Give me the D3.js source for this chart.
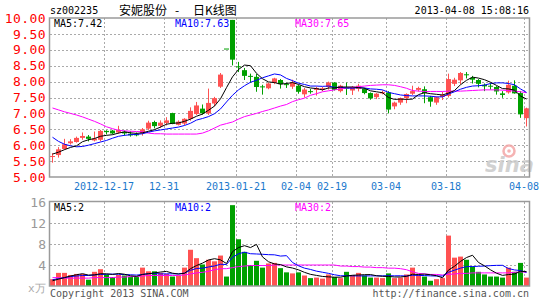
<!DOCTYPE html>
<html>
<head>
<meta charset="utf-8">
<title>安妮股份 - 日K线图</title>
<script src="https://cdn.jsdelivr.net/npm/d3@7/dist/d3.min.js"></script>
<style>
body { margin: 0; background: #fff; }
svg { display: block; }
text { font-family: "DejaVu Sans Mono", monospace; font-size: 10px; }
.grid { stroke: #aaa; stroke-dasharray: 2,2; shape-rendering: crispEdges; }
.frame { fill: none; stroke: #9a9a9a; stroke-width: 1.5; }
.ma { fill: none; stroke-width: 1; }
</style>
</head>
<body>
<script>
// trading days shown (80 sessions)
var dates = [
  "2012-12-04","2012-12-05","2012-12-06","2012-12-07","2012-12-10","2012-12-11","2012-12-12","2012-12-13","2012-12-14","2012-12-17",
  "2012-12-18","2012-12-19","2012-12-20","2012-12-21","2012-12-24","2012-12-25","2012-12-26","2012-12-27","2012-12-28","2012-12-31",
  "2013-01-04","2013-01-07","2013-01-08","2013-01-09","2013-01-10","2013-01-11","2013-01-14","2013-01-15","2013-01-16","2013-01-17",
  "2013-01-18","2013-01-21","2013-01-22","2013-01-23","2013-01-24","2013-01-25","2013-01-28","2013-01-29","2013-01-30","2013-01-31",
  "2013-02-01","2013-02-04","2013-02-05","2013-02-06","2013-02-07","2013-02-08","2013-02-18","2013-02-19","2013-02-20","2013-02-21",
  "2013-02-22","2013-02-25","2013-02-26","2013-02-27","2013-02-28","2013-03-01","2013-03-04","2013-03-05","2013-03-06","2013-03-07",
  "2013-03-08","2013-03-11","2013-03-12","2013-03-13","2013-03-14","2013-03-15","2013-03-18","2013-03-19","2013-03-20","2013-03-21",
  "2013-03-22","2013-03-25","2013-03-26","2013-03-27","2013-03-28","2013-03-29","2013-04-01","2013-04-02","2013-04-03","2013-04-08"
];

var open = [
  5.63,5.69,5.88,6.06,6.10,6.23,6.27,6.15,6.17,6.45, 6.46,6.40,6.42,6.36,6.35,6.38,6.52,6.73,6.61,6.70,
  7.01,6.64,6.68,6.83,6.98,7.15,7.00,7.31,7.84,9.04, 9.94,8.48,8.36,8.18,8.15,7.85,7.79,7.96,8.05,7.92,
  7.84,7.87,7.60,7.70,7.74,7.75,7.83,7.97,7.70,7.81, 7.72,7.77,7.77,7.64,7.51,7.63,7.66,7.22,7.34,7.48,
  7.62,7.74,7.76,7.51,7.34,7.52,7.55,7.93,8.04,8.23, 8.12,8.05,7.90,7.87,7.83,7.63,7.66,7.87,7.64,6.85
];
var high = [
  5.75,5.94,6.20,6.19,6.27,6.40,6.32,6.43,6.48,6.47, 6.48,6.61,6.46,6.44,6.40,6.54,6.77,6.77,6.78,6.88,
  7.02,6.78,6.85,7.19,7.36,7.28,7.78,7.52,8.27,9.04, 9.94,8.62,8.43,8.25,8.24,7.90,7.97,8.12,8.08,7.97,
  8.06,7.90,7.80,7.77,7.84,7.83,8.00,7.98,7.90,7.97, 7.86,7.93,7.80,7.66,7.64,7.72,7.70,7.37,7.50,7.63,
  7.87,7.84,7.85,7.55,7.53,7.68,8.25,8.12,8.30,8.30, 8.18,8.08,7.94,7.95,7.86,7.70,8.03,8.04,7.70,7.18
];
var low = [
  5.45,5.61,5.86,6.02,6.08,6.17,6.12,6.12,6.12,6.34, 6.34,6.36,6.30,6.27,6.28,6.30,6.48,6.53,6.54,6.62,
  6.66,6.62,6.63,6.77,6.95,6.96,6.95,7.22,7.80,9.04, 8.51,8.30,8.05,7.96,7.68,7.59,7.76,7.92,7.78,7.80,
  7.77,7.62,7.50,7.62,7.56,7.70,7.75,7.72,7.66,7.58, 7.58,7.69,7.60,7.43,7.45,7.60,7.00,7.13,7.27,7.32,
  7.58,7.69,7.32,7.21,7.27,7.42,7.50,7.86,7.92,8.10, 7.94,7.82,7.70,7.75,7.59,7.49,7.62,7.62,6.86,6.59
];
var close = [
  5.66,5.87,6.03,6.12,6.23,6.29,6.20,6.21,6.45,6.41, 6.37,6.48,6.37,6.31,6.31,6.50,6.71,6.60,6.71,6.78,
  6.67,6.74,6.83,7.08,7.25,7.00,7.33,7.48,8.22,9.04, 8.69,8.46,8.18,8.15,7.83,7.83,7.94,8.10,7.92,7.90,
  7.97,7.68,7.75,7.68,7.80,7.79,7.97,7.74,7.87,7.79, 7.80,7.87,7.64,7.47,7.62,7.67,7.12,7.34,7.48,7.61,
  7.70,7.80,7.64,7.37,7.51,7.58,8.08,8.06,8.27,8.21, 8.06,7.93,7.85,7.85,7.69,7.58,7.90,7.63,6.97,7.16
];

// price moving averages as drawn
var ma5 = [
  5.72,5.78,5.86,5.93,5.98,6.11,6.17,6.21,6.28,6.31, 6.33,6.38,6.42,6.39,6.37,6.39,6.44,6.49,6.57,6.66,
  6.69,6.70,6.75,6.82,6.91,6.98,7.10,7.23,7.46,7.81, 8.15,8.38,8.52,8.50,8.26,8.09,7.99,7.97,7.92,7.94,
  7.97,7.91,7.84,7.80,7.78,7.74,7.80,7.80,7.83,7.83, 7.83,7.81,7.79,7.71,7.68,7.65,7.50,7.44,7.45,7.44,
  7.45,7.59,7.65,7.62,7.60,7.58,7.64,7.72,7.90,8.04, 8.14,8.11,8.06,7.98,7.88,7.78,7.77,7.73,7.55,7.45
];
var ma10 = [
  6.25,6.12,6.03,5.98,5.95,5.96,6.00,6.05,6.10,6.15, 6.22,6.28,6.31,6.33,6.34,6.36,6.41,6.45,6.48,6.51,
  6.54,6.57,6.62,6.69,6.79,6.84,6.90,6.99,7.14,7.36, 7.57,7.74,7.87,7.98,8.04,8.12,8.18,8.24,8.21,8.10,
  8.03,7.95,7.91,7.86,7.86,7.85,7.86,7.82,7.82,7.80, 7.79,7.81,7.80,7.77,7.76,7.74,7.66,7.62,7.58,7.56,
  7.55,7.55,7.55,7.54,7.52,7.52,7.61,7.68,7.76,7.82, 7.86,7.87,7.89,7.94,7.96,7.96,7.94,7.90,7.77,7.66
];
var ma30 = [
  7.17,7.11,7.05,7.00,6.95,6.89,6.82,6.75,6.67,6.58, 6.52,6.47,6.45,6.44,6.43,6.42,6.38,6.36,6.36,6.35,
  6.35,6.35,6.35,6.35,6.35,6.38,6.45,6.54,6.63,6.68, 6.73,6.82,6.90,6.95,7.00,7.06,7.11,7.17,7.23,7.28,
  7.37,7.43,7.48,7.57,7.62,7.68,7.71,7.74,7.77,7.80, 7.82,7.84,7.86,7.88,7.89,7.90,7.90,7.88,7.84,7.79,
  7.72,7.70,7.69,7.69,7.69,7.69,7.70,7.70,7.70,7.71, 7.72,7.73,7.74,7.74,7.74,7.73,7.72,7.70,7.68,7.65
];

// volume, x10k lots
var volume = [
  1.3,2.5,2.5,2.1,2.3,2.3,1.2,2.7,3.2,2.2, 1.7,2.1,2.0,1.7,1.7,3.5,2.8,2.8,2.5,2.3,
  1.8,2.0,3.5,6.9,5.3,4.1,5.0,4.7,5.8,1.8, 15.4,8.9,6.5,4.0,4.8,3.5,4.3,4.4,3.4,2.6,
  2.4,2.6,2.0,1.5,1.6,1.4,2.2,1.7,1.5,2.7, 2.1,2.5,2.0,1.6,1.6,1.5,2.4,1.5,1.6,2.2,
  3.5,2.2,1.8,1.0,1.3,1.5,9.6,5.4,5.6,5.0, 3.7,2.7,2.2,1.8,1.8,1.6,3.5,2.7,4.4,1.6
];
var volMa5 = [
  1.0,1.3,1.6,1.9,2.14,2.34,2.08,2.12,2.34,2.32, 2.20,2.38,2.24,1.94,1.84,2.20,2.34,2.50,2.66,2.78,
  2.44,2.28,2.42,3.30,3.90,4.36,4.96,5.20,4.98,4.28, 6.54,7.32,7.68,7.32,7.92,5.54,4.62,4.20,4.08,3.64,
  3.42,3.08,2.60,2.22,2.02,1.82,1.74,1.68,1.68,1.90, 2.04,2.10,2.16,2.18,1.96,1.84,1.82,1.72,1.72,1.84,
  2.24,2.20,2.26,2.14,1.96,1.56,3.04,3.76,4.68,5.42, 5.86,4.48,3.84,3.08,2.44,2.02,2.18,2.28,2.80,2.76
];
var volMa10 = [
  1.2,1.4,1.6,1.8,1.9,2.0,2.0,2.1,2.2,2.23, 2.27,2.23,2.18,2.14,2.08,2.20,2.36,2.37,2.30,2.31,
  2.32,2.31,2.46,2.98,3.34,3.40,3.62,3.81,4.14,4.09, 5.45,6.14,6.44,6.15,6.10,6.04,5.97,5.94,5.70,5.78,
  4.48,3.85,3.40,3.15,2.83,2.62,2.41,2.14,1.95,1.96, 1.93,1.92,1.92,1.93,1.93,1.94,1.96,1.94,1.95,1.90,
  2.04,2.01,1.99,1.93,1.90,1.90,2.62,3.01,3.41,3.69, 3.71,3.76,3.80,3.88,3.93,3.94,3.33,3.06,2.94,2.60
];
var volMa30 = [
  1.6,1.6,1.5,1.5,1.5,1.5,1.5,1.6,1.6,1.6, 1.6,1.7,1.7,1.8,1.8,1.9,2.0,2.0,2.0,2.0,
  2.0,2.0,2.1,2.3,2.5,2.6,2.8,3.1,3.3,3.3, 3.5,3.7,3.8,3.9,3.9,3.9,3.9,4.0,4.0,4.0,
  4.0,4.0,4.0,4.0,4.0,4.0,4.0,4.0,3.8,3.8, 3.7,3.7,3.6,3.6,3.5,3.5,3.4,3.4,3.3,3.1,
  2.7,2.4,2.3,2.2,2.2,2.1,2.2,2.3,2.4,2.4, 2.5,2.5,2.5,2.5,2.5,2.5,2.5,2.6,2.7,2.6
];

var tickDates = ["2012-12-17","2012-12-31","2013-01-21","2013-02-04","2013-02-19","2013-03-04","2013-03-18","2013-04-08"];
var tickLabels = ["2012-12-17","12-31","2013-01-21","02-04","02-19","03-04","03-18","04-08"];
var priceTicks = [5, 5.5, 6, 6.5, 7, 7.5, 8, 8.5, 9, 9.5, 10];
var volTicks = [4, 8, 12, 16];

var width = 545, height = 300;
var red = "#ff5252", green = "#00a000";

var svg = d3.select("body").append("svg")
  .attr("width", width)
  .attr("height", height);

var x = d3.scaleBand()
  .domain(dates)
  .range([49.5, 529.5])
  .paddingInner(1 / 6)
  .paddingOuter(1 / 12);

var yP = d3.scaleLinear().domain([5, 10]).range([177, 18]);
var yV = d3.scaleLinear().domain([0, 16]).range([286, 202]);

var rows = dates.map(function(d, i) {
  return {date: d, o: open[i], h: high[i], l: low[i], c: close[i], v: volume[i]};
});
function col(d) { return d.c > d.o ? red : green; }
function cx(d) { return x(d) + x.bandwidth() / 2; }

// ---------- grids ----------
var grid = svg.append("g");
grid.selectAll(".hp")
  .data(priceTicks.filter(function(v) { return v > 5 && v < 10; }))
  .enter().append("line")
  .attr("class", "grid")
  .attr("x1", 50).attr("x2", 529)
  .attr("y1", function(v) { return Math.round(yP(v)) + 0.5; })
  .attr("y2", function(v) { return Math.round(yP(v)) + 0.5; });
grid.selectAll(".hv")
  .data(volTicks.filter(function(v) { return v < 16; }))
  .enter().append("line")
  .attr("class", "grid")
  .attr("x1", 50).attr("x2", 529)
  .attr("y1", function(v) { return Math.round(yV(v)) + 0.5; })
  .attr("y2", function(v) { return Math.round(yV(v)) + 0.5; });
tickDates.forEach(function(t) {
  [[18, 177], [202, 286]].forEach(function(r) {
    grid.append("line")
      .attr("class", "grid")
      .attr("x1", x(t) + 0.5).attr("x2", x(t) + 0.5)
      .attr("y1", r[0]).attr("y2", r[1]);
  });
});

// sina watermark (behind the marks)
var mark = svg.append("g").attr("opacity", 0.85);
mark.append("circle").attr("cx", 509).attr("cy", 151).attr("r", 5.5)
  .attr("fill", "none").attr("stroke", "#f4a6a6").attr("stroke-width", 2.5);
mark.append("circle").attr("cx", 509).attr("cy", 151).attr("r", 1.8)
  .attr("fill", "#f4a6a6");
mark.append("text").attr("x", 485).attr("y", 172)
  .style("font-family", "DejaVu Sans, sans-serif").style("font-size", "21px")
  .style("font-style", "italic").style("font-weight", "bold")
  .attr("fill", "#cacaca").text("sina");

// ---------- candles ----------
var candles = svg.append("g").selectAll("g")
  .data(rows)
  .enter().append("g");

candles.append("line")
  .attr("x1", function(d) { return cx(d.date); })
  .attr("x2", function(d) { return cx(d.date); })
  .attr("y1", function(d) { return yP(d.h); })
  .attr("y2", function(d) { return yP(d.l); })
  .attr("stroke", col)
  .attr("stroke-width", 1);

candles.append("rect")
  .attr("x", function(d) { return x(d.date); })
  .attr("width", x.bandwidth())
  .attr("y", function(d) { return yP(Math.max(d.o, d.c)); })
  .attr("height", function(d) { return Math.max(1, Math.abs(yP(d.o) - yP(d.c))); })
  .attr("fill", col);

// ---------- volume bars ----------
svg.append("g").selectAll("rect")
  .data(rows)
  .enter().append("rect")
  .attr("x", function(d) { return x(d.date); })
  .attr("width", x.bandwidth())
  .attr("y", function(d) { return yV(d.v); })
  .attr("height", function(d) { return yV(0) - yV(d.v); })
  .attr("fill", col);

// ---------- moving average lines ----------
function drawLine(values, scale, color) {
  var line = d3.line()
    .x(function(v, i) { return cx(dates[i]); })
    .y(function(v) { return scale(v); });
  svg.append("path")
    .datum(values)
    .attr("class", "ma")
    .attr("stroke", color)
    .attr("d", line);
}
drawLine(ma30, yP, "#ff00ff");
drawLine(ma10, yP, "#0000ff");
drawLine(ma5, yP, "#000000");
drawLine(volMa30, yV, "#ff00ff");
drawLine(volMa10, yV, "#0000ff");
drawLine(volMa5, yV, "#000000");

// ---------- frames ----------
svg.append("rect").attr("class", "frame")
  .attr("x", 49.5).attr("y", 18).attr("width", 480).attr("height", 159);
svg.append("rect").attr("class", "frame")
  .attr("x", 49.5).attr("y", 201.5).attr("width", 480).attr("height", 84.5);

// ---------- axes ----------
var yAxis = svg.append("g")
  .attr("transform", "translate(50,0)")
  .call(d3.axisLeft(yP).tickValues(priceTicks).tickFormat(d3.format(".2f")).tickSize(0).tickPadding(4));
yAxis.select(".domain").remove();
yAxis.selectAll("text")
  .attr("fill", "#ff0000")
  .style("font-size", "13px")
  .style("letter-spacing", "0.4px");

var vAxis = svg.append("g")
  .attr("transform", "translate(50,0)")
  .call(d3.axisLeft(yV).tickValues(volTicks).tickSize(0).tickPadding(4));
vAxis.select(".domain").remove();
vAxis.selectAll("text")
  .attr("fill", "#999")
  .style("font-size", "13px");

var xAxis = svg.append("g")
  .attr("transform", "translate(-2.5,183)")
  .call(d3.axisBottom(x).tickValues(tickDates)
    .tickFormat(function(d) { return tickLabels[tickDates.indexOf(d)]; })
    .tickSize(0).tickPadding(0));
xAxis.select(".domain").remove();
xAxis.selectAll("text")
  .attr("fill", "#1a78cc")
  .style("font-size", "10px");

// ---------- header, legends, footer ----------
svg.append("text").attr("x", 50).attr("y", 14).attr("fill", "#000").text("sz002235");
var cjk = '"Noto Sans CJK SC", sans-serif';
svg.append("text").attr("x", 119).attr("y", 15).style("font-family", cjk).style("font-size", "12px").text("安妮股份");
svg.append("text").attr("x", 175).attr("y", 15).style("font-family", cjk).style("font-size", "12px").text("-");
svg.append("text").attr("x", 193).attr("y", 15).style("font-family", cjk).style("font-size", "12px").text("日K线图");
svg.append("text").attr("x", 529).attr("y", 14).attr("text-anchor", "end").text("2013-04-08 15:08:16");

function legend(y, labels) {
  [[54, "#000000"], [175, "#0000ff"], [295, "#ff00ff"]].forEach(function(p, i) {
    svg.append("text").attr("x", p[0]).attr("y", y).attr("fill", p[1]).text(labels[i]);
  });
}
legend(27, ["MA5:7.42", "MA10:7.63", "MA30:7.65"]);
legend(211, ["MA5:2", "MA10:2", "MA30:2"]);

svg.append("text").attr("x", 28).attr("y", 292).attr("fill", "#aaa")
  .style("font-size", "11px").text("x万");
svg.append("text").attr("x", 50).attr("y", 297).attr("fill", "#555").text("Copyright 2013 SINA.COM");
svg.append("text").attr("x", 529).attr("y", 297).attr("text-anchor", "end").attr("fill", "#555").text("http://finance.sina.com.cn");
</script>
</body>
</html>
